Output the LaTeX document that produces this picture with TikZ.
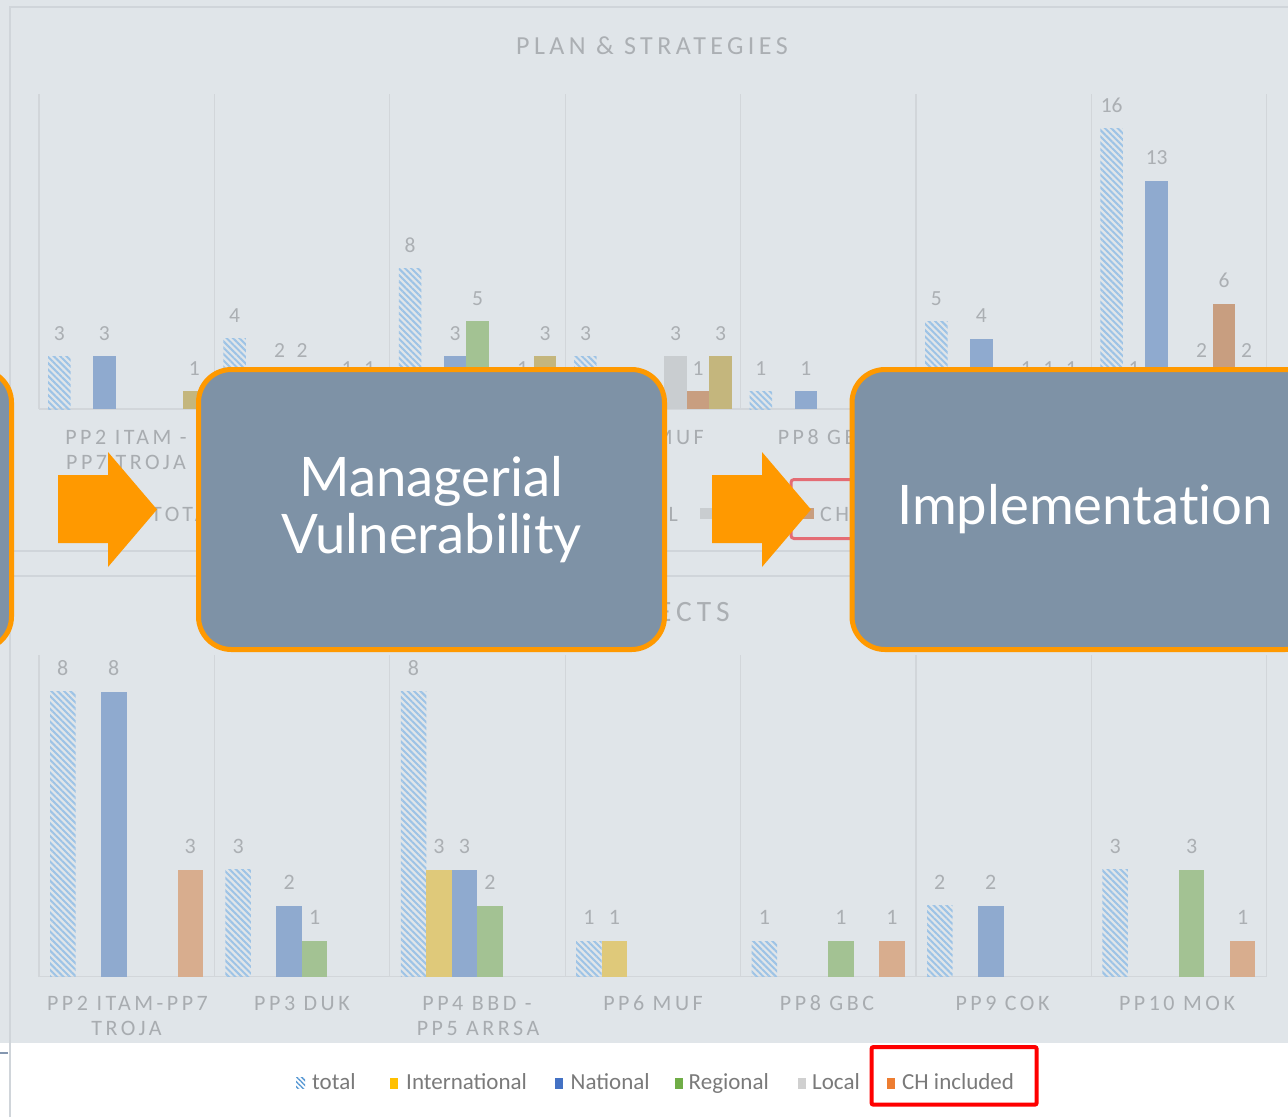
\documentclass[tikz,border=0pt]{standalone}
\usepackage{fontspec}
\usetikzlibrary{patterns.meta}
\newfontfamily\chartfont{Carlito}
\newfontfamily\chartsp[LetterSpace=16]{Carlito}
\newfontfamily\titlesp[LetterSpace=17]{Carlito}
\newfontfamily\boxfont[Ligatures=NoCommon]{Lato}
\definecolor{bg}{HTML}{E0E5E9}
\definecolor{frame}{HTML}{D0D5DA}
\definecolor{grid}{HTML}{D2D6DA}
\definecolor{txt}{HTML}{ABAFB3}
\definecolor{cattxt}{HTML}{A8ACB0}
\definecolor{hatch}{HTML}{9DC3E6}
\definecolor{natl}{HTML}{8FAACF}
\definecolor{regl}{HTML}{A3C293}
\definecolor{locl}{HTML}{C9CDD0}
\definecolor{chtop}{HTML}{C89E80}
\definecolor{chbot}{HTML}{D8AD8E}
\definecolor{khaki}{HTML}{C4B67D}
\definecolor{intl}{HTML}{DFC97A}
\definecolor{boxfill}{HTML}{7E92A6}
\definecolor{orng}{HTML}{FF9900}
\definecolor{legtxt}{HTML}{7A7A7A}
\definecolor{redbox}{HTML}{E46C74}
\definecolor{leghatch}{HTML}{5B9BD5}
\definecolor{legintl}{HTML}{FFC000}
\definecolor{legnatl}{HTML}{4472C4}
\definecolor{legregl}{HTML}{70AD47}
\definecolor{leglocl}{HTML}{D0D0D0}
\definecolor{legch}{HTML}{ED7D31}
\definecolor{edgeblue}{HTML}{8497B0}
\begin{document}
\begin{tikzpicture}[x=1pt,y=-1pt,
  lbl/.style={font=\chartfont\fontsize{21.5}{24}\selectfont, text=txt, inner sep=0pt, anchor=base},
  blbl/.style={font=\chartfont\fontsize{22}{25}\selectfont, text=txt, inner sep=0pt, anchor=base},
  cat/.style={font=\chartsp\fontsize{22}{25}\selectfont, text=cattxt, inner sep=0pt, anchor=base},
  ttl/.style={font=\titlesp\fontsize{26}{30}\selectfont, text=txt, inner sep=0pt, anchor=base},
  leg/.style={font=\chartfont\fontsize{23}{27}\selectfont, text=legtxt, inner sep=0pt, anchor=base west},
  bigbox/.style={draw=orng, line width=5pt, fill=boxfill, rounded corners=33pt,
    minimum width=466pt, minimum height=280pt, inner sep=0pt, text=white, align=center,
    font=\boxfont\fontsize{54.5}{57}\selectfont},
  gridl/.style={draw=grid, line width=1.2pt},
  hatchbar/.style={pattern={Lines[angle=-45,distance=4.5pt,line width=2pt]}, pattern color=hatch},
]
\clip (0,0) rectangle (1288,1117);
\path[use as bounding box] (0,0) rectangle (1288,1117);
% background
\fill[bg] (0,0) rectangle (1288,1117);
\fill[white] (0,1043) rectangle (1288,1117);
\draw[frame, line width=1.5pt] (10,1117) -- (10,7) -- (1288,7);
\draw[frame, line width=1.5pt] (10,551) -- (1288,551);
\draw[frame, line width=1.5pt] (10,576) -- (1288,576);
\draw[edgeblue, line width=1.2pt] (0,1053) -- (8,1053);

% ===== top chart =====
\node[ttl] (title1) at (652,54) {PLAN \& STRATEGIES};
\foreach \k in {0,...,7} \draw[gridl] ({39+175.4*\k},94) -- ({39+175.4*\k},409);
\draw[gridl] (39,409) -- (1267,409);
\foreach \c/\v in {0/3,1/4,2/8,3/3,4/1,5/5,6/16} {
  \pgfmathsetmacro\xa{48+175.4*\c}
  \pgfmathsetmacro\ya{409-17.56*\v}
  \path[hatchbar] (\xa,409) rectangle ({\xa+22.5},\ya);
  \node[lbl] (tt-\c) at ({\xa+11.25},{\ya-16}) {\v};
}
\foreach \c/\i/\v/\col in {0/2/3/natl, 0/6/1/khaki,
  1/2/2/natl, 1/3/2/regl, 1/5/1/chtop, 1/6/1/khaki,
  2/2/3/natl, 2/3/5/regl, 2/5/1/chtop, 2/6/3/khaki,
  3/4/3/locl, 3/5/1/chtop, 3/6/3/khaki,
  4/2/1/natl,
  5/2/4/natl, 5/4/1/locl, 5/5/1/chtop, 5/6/1/khaki,
  6/1/1/intl, 6/2/13/natl, 6/4/2/locl, 6/5/6/chtop, 6/6/2/khaki} {
  \pgfmathsetmacro\xa{48+175.4*\c+22.5*\i}
  \pgfmathsetmacro\ya{409-17.56*\v}
  \fill[\col] (\xa,409) rectangle ({\xa+22.5},\ya);
  \node[lbl] (tc-\c-\i) at ({\xa+11.25},{\ya-16}) {\v};
}
\node[cat] (tcat1a) at (126,444) {PP2 ITAM -};
\node[cat] (tcat1b) at (126,469.3) {PP7 TROJA};
\node[cat, anchor=base east] (tcat4) at (704,444) {PP6 MUF};
\node[cat, anchor=base west] (tcat5) at (777.6,444) {PP8 GBC};
% top legend fragments
\node[cat, anchor=base west] (tlg-total) at (151,521.5) {TOTAL};
\node[cat, anchor=base east] (tlg-reg) at (678,521.5) {L};
\fill[locl] (700,508) rectangle (713,519);
\fill[chtop] (803,508) rectangle (814,519);
\node[cat, anchor=base west] (tlg-ch) at (820,521.5) {CH};
\draw[redbox, line width=3pt, rounded corners=3pt] (791,479.5) rectangle (1000,538.5);

% ===== bottom chart =====
\node[font=\titlesp\fontsize{29.5}{32}\selectfont, text=txt, inner sep=0pt, anchor=base east] (title2) at (730,621.7) {PROJECTS};
\foreach \k in {0,...,7} \draw[gridl] ({39+175.4*\k},655) -- ({39+175.4*\k},976.7);
\draw[gridl] (39,976.7) -- (1267,976.7);
\foreach \c/\v in {0/8,1/3,2/8,3/1,4/1,5/2,6/3} {
  \pgfmathsetmacro\xa{50+175.4*\c}
  \pgfmathsetmacro\ya{976.7-35.6*\v}
  \path[hatchbar] (\xa,976.7) rectangle ({\xa+25.5},\ya);
  \node[blbl] (bt-\c) at ({\xa+12.75},{\ya-16.5}) {\v};
}
\foreach \c/\i/\v/\col in {0/2/8/natl, 0/5/3/chbot,
  1/2/2/natl, 1/3/1/regl,
  2/1/3/intl, 2/2/3/natl, 2/3/2/regl,
  3/1/1/intl,
  4/3/1/regl, 4/5/1/chbot,
  5/2/2/natl,
  6/3/3/regl, 6/5/1/chbot} {
  \pgfmathsetmacro\xa{50+175.4*\c+25.5*\i}
  \pgfmathsetmacro\ya{976.7-35.6*\v}
  \fill[\col] (\xa,976.7) rectangle ({\xa+25.5},\ya);
  \node[blbl] (bc-\c-\i) at ({\xa+12.75},{\ya-16.5}) {\v};
}
\node[cat] (bcat1a) at (127.5,1010.7) {PP2 ITAM-PP7};
\node[cat] (bcat1b) at (126.5,1035) {TROJA};
\node[cat] (bcat2) at (302,1010.7) {PP3 DUK};
\node[cat] (bcat3a) at (477,1010.7) {PP4 BBD -};
\node[cat] (bcat3b) at (478,1035) {PP5 ARRSA};
\node[cat] (bcat4) at (653,1010.7) {PP6 MUF};
\node[cat] (bcat5) at (827,1010.7) {PP8 GBC};
\node[cat] (bcat6) at (1002.5,1010.7) {PP9 COK};
\node[cat] (bcat7) at (1177,1010.7) {PP10 MOK};

% ===== bottom legend =====
\path[pattern={Lines[angle=-45,distance=3.5pt,line width=1.5pt]}, pattern color=leghatch] (296,1077.5) rectangle (305,1088.5);
\node[leg] (lg-total) at (312,1089.3) {total};
\fill[legintl] (389.5,1078) rectangle (397.5,1088.5);
\node[leg] (lg-intl) at (406,1089.3) {International};
\fill[legnatl] (555,1078) rectangle (563,1088.5);
\node[leg] (lg-natl) at (570.5,1089.3) {National};
\fill[legregl] (674.5,1078) rectangle (682.5,1088.5);
\node[leg] (lg-regl) at (688.5,1089.3) {Regional};
\fill[leglocl] (797.5,1078) rectangle (805.5,1088.5);
\node[leg] (lg-locl) at (812,1089.3) {Local};
\fill[legch] (887,1078) rectangle (895,1088.5);
\node[leg] (lg-ch) at (902,1089.3) {CH included};
\draw[red, line width=4pt, rounded corners=2pt] (871.5,1047) rectangle (1036.7,1104.7);

% ===== overlay: boxes and arrows =====
\node[bigbox] (leftbox) at (-221.5,509.5) {};
\node[bigbox] (mgr) at (431.5,509.5) {Managerial\\Vulnerability};
\node[bigbox] (impl) at (1085,509.5) {Implementation};
\fill[orng] (58,475) -- (108,475) -- (108,452) -- (157,509.5) -- (108,567) -- (108,543) -- (58,543) -- cycle;
\fill[orng] (712,475) -- (762,475) -- (762,452) -- (811,509.5) -- (762,567) -- (762,543) -- (712,543) -- cycle;
\end{tikzpicture}
\end{document}
